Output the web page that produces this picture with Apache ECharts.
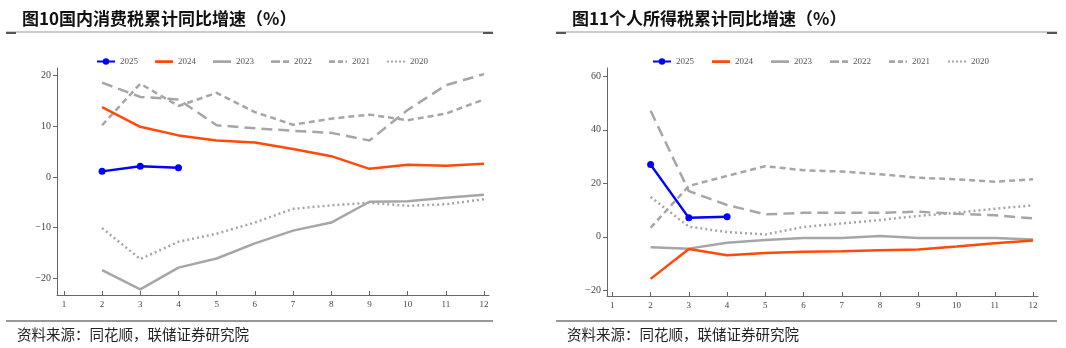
<!DOCTYPE html>
<html>
<head>
<meta charset="utf-8">
<script src="https://cdn.jsdelivr.net/npm/echarts@6/dist/echarts.min.js"></script>
<style>
html,body{margin:0;padding:0;background:#fff;}
#chart{width:1066px;height:348px;}
</style>
</head>
<body>
<div id="chart"></div>
<script>
// ---- data ----
const months = [2, 3, 4, 5, 6, 7, 8, 9, 10, 11, 12];
const xTickLabels = [1, 2, 3, 4, 5, 6, 7, 8, 9, 10, 11, 12];
const seriesNames = ['2025', '2024', '2023', '2022', '2021', '2020'];

// 国内消费税累计同比 (%)
const cons2025 = [1.1, 2.1, 1.8];
const cons2024 = [13.8, 9.9, 8.2, 7.2, 6.8, 5.5, 4.1, 1.6, 2.4, 2.2, 2.6];
const cons2023 = [-18.4, -22.2, -17.9, -16.1, -13.1, -10.6, -9.0, -4.9, -4.8, -4.1, -3.5];
const cons2022 = [18.6, 15.8, 15.3, 10.2, 9.6, 9.1, 8.7, 7.2, 13.2, 18.1, 20.3];
const cons2021 = [10.2, 18.4, 14.0, 16.6, 12.8, 10.3, 11.5, 12.3, 11.2, 12.5, 15.3];
const cons2020 = [-10.1, -16.2, -12.8, -11.2, -9.0, -6.3, -5.6, -5.1, -5.7, -5.4, -4.4];
const consYTicks = [-20, -10, 0, 10, 20];

// 个人所得税累计同比 (%)
const pit2025 = [27.0, 7.1, 7.5];
const pit2024 = [-15.7, -4.5, -6.9, -6.0, -5.6, -5.4, -5.0, -4.7, -3.6, -2.4, -1.4];
const pit2023 = [-3.9, -4.4, -2.2, -1.2, -0.4, -0.4, 0.3, -0.4, -0.4, -0.4, -1.0];
const pit2022 = [47.1, 17.1, 11.9, 8.4, 9.0, 9.0, 9.0, 9.4, 8.6, 8.1, 6.9];
const pit2021 = [3.4, 19.0, 22.8, 26.4, 24.9, 24.4, 23.4, 22.1, 21.5, 20.6, 21.5];
const pit2020 = [14.9, 3.8, 1.8, 0.9, 3.7, 5.0, 6.3, 7.8, 9.0, 10.5, 11.8];
const pitYTicks = [-20, 0, 20, 40, 60];

const title1 = '图10国内消费税累计同比增速（%）';
const title2 = '图11个人所得税累计同比增速（%）';
const sourceText = '资料来源：同花顺，联储证券研究院';

// ---- styles ----
const GRAY = '#a6a6a6';
const styles = {
  '2025': {color: '#0000ff', type: 'solid', symbol: true},
  '2024': {color: '#ff4a0a', type: 'solid'},
  '2023': {color: GRAY, type: 'solid'},
  '2022': {color: GRAY, type: [11, 6]},
  '2021': {color: GRAY, type: [6, 4]},
  '2020': {color: GRAY, type: [2, 3]}
};
// legend icons drawn in an 18x8 box (tiny corner specks fix the box size)
const BOX = 'M0,0h0.01v0.01h-0.01zM17.99,7.99h0.01v0.01h-0.01z';
const legendIcons = {
  '2024': 'path://' + BOX + 'M0,2.8h18v2.6h-18z',
  '2023': 'path://' + BOX + 'M0,2.8h18v2.6h-18z',
  '2022': 'path://' + BOX + 'M0,2.8h9v2.6h-9zM12,2.8h6v2.6h-6z',
  '2021': 'path://' + BOX + 'M0,2.8h6v2.6h-6zM9,2.8h5v2.6h-5zM16.5,2.8h1.5v2.6h-1.5z',
  '2020': 'path://' + BOX + 'M0,3h2v2h-2zM4,3h2v2h-2zM8,3h2v2h-2zM12,3h2v2h-2zM16,3h2v2h-2z'
};
const SERIF = '"Liberation Serif", "DejaVu Serif", serif';
const CJK = '"Noto Sans CJK SC", sans-serif';

function pairs(vals) { return vals.map((v, i) => [months[i], v]); }

function makeSeries(idx, arrs) {
  return seriesNames.map((name, k) => {
    const st = styles[name];
    return {
      name: name,
      type: 'line',
      xAxisIndex: idx,
      yAxisIndex: idx,
      data: pairs(arrs[k]),
      symbol: st.symbol ? 'circle' : 'none',
      symbolSize: 7,
      showSymbol: !!st.symbol,
      smooth: false,
      z: 10 - k,
      itemStyle: {color: st.color},
      lineStyle: {color: st.color, width: 2.5, type: st.type},
      emphasis: {disabled: true},
      animation: false
    };
  });
}

function xAxis(idx, min, max) {
  return {
    type: 'value', gridIndex: idx, min: min, max: max,
    splitLine: {show: false},
    axisLine: {show: true, onZero: false, lineStyle: {color: '#666', width: 1}},
    axisTick: {show: true, inside: true, length: 4, customValues: xTickLabels, lineStyle: {color: '#666'}},
    axisLabel: {customValues: xTickLabels, margin: 5, fontFamily: SERIF, fontSize: 9, color: '#444'}
  };
}
function yAxis(idx, min, max, ticks) {
  return {
    type: 'value', gridIndex: idx, min: min, max: max,
    splitLine: {show: false},
    axisLine: {show: true, lineStyle: {color: '#666', width: 1}},
    axisTick: {show: true, inside: false, length: 4, customValues: ticks, lineStyle: {color: '#666'}},
    axisLabel: {customValues: ticks, margin: 6, fontFamily: SERIF, fontSize: 10, color: '#444',
      formatter: v => (v < 0 ? '\u2212' + Math.abs(v) : String(v))}
  };
}
function legend(left, top, gap) {
  return {
    left: left, top: top, itemWidth: 18, itemHeight: 8, itemGap: gap,
    itemStyle: {borderWidth: 0},
    textStyle: {fontFamily: SERIF, fontSize: 9, color: '#555'},
    data: seriesNames.map(n => legendIcons[n] ? {name: n, icon: legendIcons[n]} : {name: n})
  };
}

function hline(x1, x2, y, color, w) {
  return {type: 'line', shape: {x1: x1, y1: y, x2: x2, y2: y}, style: {stroke: color, lineWidth: w}, silent: true};
}
function cap(x, y) {
  return {type: 'rect', shape: {x: x, y: y, width: 10, height: 2}, style: {fill: '#555'}, silent: true};
}

const chart = echarts.init(document.getElementById('chart'), null, {renderer: 'canvas'});
chart.setOption({
  animation: false,
  title: [
    {text: title1, left: 17, top: 5, textStyle: {fontFamily: CJK, fontSize: 17, fontWeight: 'bold', color: '#111'}},
    {text: title2, left: 567, top: 5, textStyle: {fontFamily: CJK, fontSize: 17, fontWeight: 'bold', color: '#111'}}
  ],
  legend: [legend(91, 52, 17), legend(647, 52, 18)],
  grid: [
    {left: 57, top: 68, width: 432, height: 227},
    {left: 607, top: 68, width: 431, height: 228}
  ],
  xAxis: [xAxis(0, 0.82, 12.13), xAxis(1, 0.86, 12.13)],
  yAxis: [yAxis(0, -23.3, 21.5, consYTicks), yAxis(1, -22.1, 63.1, pitYTicks)],
  series: makeSeries(0, [cons2025, cons2024, cons2023, cons2022, cons2021, cons2020])
    .concat(makeSeries(1, [pit2025, pit2024, pit2023, pit2022, pit2021, pit2020])),
  graphic: [
    hline(6, 493, 32, '#999', 1),
    cap(6, 32), cap(483, 32),
    hline(6, 493, 321, '#333', 1),
    hline(556, 1057, 32, '#999', 1),
    cap(556, 32), cap(1047, 32),
    hline(556, 1057, 321, '#333', 1),
    {type: 'text', left: 17, top: 327, style: {text: sourceText, font: '14.5px "Noto Sans CJK SC", sans-serif', fill: '#222'}, silent: true},
    {type: 'text', left: 567, top: 327, style: {text: sourceText, font: '14.5px "Noto Sans CJK SC", sans-serif', fill: '#222'}, silent: true}
  ]
});
</script>
</body>
</html>
